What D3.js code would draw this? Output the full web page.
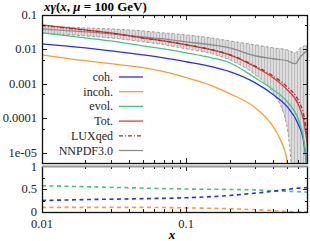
<!DOCTYPE html>
<html>
<head>
<meta charset="utf-8">
<script src="https://cdn.jsdelivr.net/npm/d3@7"></script>
<style>
  body { margin: 0; background: #fff; }
  text { font-family: "Liberation Serif", "DejaVu Serif", serif; }
</style>
</head>
<body>
<div id="chart"></div>
<script>
// x grid for the photon curves
const xs = [0.01, 0.02, 0.03, 0.05, 0.07, 0.1, 0.15, 0.2, 0.3, 0.4, 0.5, 0.6, 0.65, 0.7];
const coh  = [0.0145, 0.0111, 0.00912, 0.00698, 0.00571, 0.00438, 0.00314, 0.00225, 0.00108, 4.9e-4, 2.2e-4, 6.6e-5, 2.4e-5, 2e-6];
const evol = [0.0302, 0.0216, 0.0177, 0.0127, 0.0104, 0.00798, 0.00571, 0.0041, 0.00151, 6.8e-4, 3.06e-4, 9.2e-5, 2.8e-5, 2e-6];
const tot  = [0.0514, 0.0368, 0.0302, 0.0216, 0.0177, 0.0136, 0.00973, 0.00698, 0.00314, 0.00151, 6.8e-4, 2.5e-4, 9.2e-5, 1.25e-5];
const lux  = [0.050, 0.0362, 0.0298, 0.0214, 0.0177, 0.0137, 0.0099, 0.0071, 0.0033, 0.0017, 8.3e-4, 3.3e-4, 1.4e-4, 2.4e-5];

const xsIncoh = [0.01, 0.02, 0.03, 0.05, 0.07, 0.1, 0.15, 0.2, 0.3, 0.4, 0.45, 0.5, 0.52];
const incoh   = [0.00698, 0.00469, 0.00384, 0.00294, 0.00225, 0.00151, 8.9e-4, 5.2e-4, 2.05e-4, 5.8e-5, 2.4e-5, 6e-6, 1e-6];

// NNPDF3.0 central value and band
const xsNN    = [0.01, 0.02, 0.03, 0.05, 0.07, 0.1, 0.15, 0.2, 0.3, 0.4, 0.5, 0.57, 0.62, 0.7];
const nnMid   = [0.0394, 0.0323, 0.0283, 0.0231, 0.0202, 0.0166, 0.0136, 0.0111, 0.00654, 0.00535, 0.00469, 0.00384, 0.0061, 0.0097];
const nnUp    = [0.0481, 0.0421, 0.0394, 0.0345, 0.0302, 0.0264, 0.0216, 0.0177, 0.0136, 0.0111, 0.00973, 0.00798, 0.0111, 0.0136];
const nnLow   = [0.0302, 0.0247, 0.0216, 0.0166, 0.0136, 0.0104, 0.00746, 0.005, 0.00185, 5.5e-4, 6e-5, 1e-6, 1e-6, 1e-6];

// ratio panel (fraction of total)
const xsRatio    = [0.01, 0.02, 0.05, 0.1, 0.2, 0.3, 0.4, 0.5, 0.6, 0.7];
const ratioCoh   = [0.25, 0.27, 0.29, 0.31, 0.36, 0.41, 0.45, 0.49, 0.52, 0.53];
const ratioEvol  = [0.57, 0.55, 0.52, 0.50, 0.49, 0.48, 0.46, 0.45, 0.44, 0.43];
const ratioIncoh = [0.10, 0.10, 0.10, 0.09, 0.07, 0.05, 0.03, 0.01, 0.0, 0.0];

const yMajor = [0.1, 0.01, 0.001, 0.0001, 0.00001];
const yMajorLabels = ["0.1", "0.01", "0.001", "0.0001", "1e-05"];
const yMinor = [0.05, 0.005, 0.0005, 0.00005];
const xMajor = [0.01, 0.1];
const xMajorLabels = ["0.01", "0.1"];
const xMinor = [0.02, 0.03, 0.04, 0.05, 0.06, 0.07, 0.08, 0.09, 0.2, 0.3, 0.4, 0.5, 0.6];
const rMajor = [0, 0.5, 1];
const rMinor = [0.25, 0.75];

const series = [
  { label: "coh.",     xs: xs,      ys: coh,   color: "#2a2aff", dash: null },
  { label: "incoh.",   xs: xsIncoh, ys: incoh, color: "#ff9a2e", dash: null },
  { label: "evol.",    xs: xs,      ys: evol,  color: "#3cc97c", dash: null },
  { label: "Tot.",     xs: xs,      ys: tot,   color: "#ee3333", dash: null },
  { label: "LUXqed",   xs: xs,      ys: lux,   color: "#a52a2a", dash: "4,2,1,2" },
  { label: "NNPDF3.0", xs: xsNN,    ys: nnMid, color: "#8c8c8c", dash: null }
];

const W = 310, H = 241;
const L = 42, R = 308, T = 15, B = 163, T2 = 166, B2 = 212;

const svg = d3.select("#chart").append("svg")
  .attr("width", W).attr("height", H);

const x = d3.scaleLog().domain([0.01, 0.7]).range([L, R]);
const y = d3.scaleLog().domain([5e-6, 0.1]).range([B, T]);
const yr = d3.scaleLinear().domain([0, 1]).range([B2, T2]);

const defs = svg.append("defs");
defs.append("clipPath").attr("id", "clipTop")
  .append("rect").attr("x", L).attr("y", T).attr("width", R - L).attr("height", B - T);
defs.append("clipPath").attr("id", "clipBot")
  .append("rect").attr("x", L).attr("y", T2).attr("width", R - L).attr("height", B2 - T2);
const pat = defs.append("pattern").attr("id", "hatch")
  .attr("patternUnits", "userSpaceOnUse").attr("width", 3).attr("height", 10);
pat.append("rect").attr("width", 3).attr("height", 10).attr("fill", "#dcdcdc");
pat.append("line").attr("x1", 0.5).attr("x2", 0.5).attr("y1", 0).attr("y2", 10)
  .attr("stroke", "#bdbdbd").attr("stroke-width", 1);

const gTop = svg.append("g").attr("clip-path", "url(#clipTop)");

// NNPDF band
const nn = xsNN.map((d, i) => ({ x: d, lo: nnLow[i], hi: nnUp[i] }));
gTop.append("path")
  .datum(nn)
  .attr("fill", "url(#hatch)")
  .attr("d", d3.area().x(d => x(d.x)).y0(d => y(d.lo)).y1(d => y(d.hi)).curve(d3.curveMonotoneX));

[nnUp, nnLow].forEach(arr => {
  gTop.append("path")
    .datum(xsNN.map((d, i) => [d, arr[i]]))
    .attr("fill", "none")
    .attr("stroke", "#a0a0a0")
    .attr("stroke-width", 1)
    .attr("stroke-dasharray", "3,2")
    .attr("d", d3.line().x(d => x(d[0])).y(d => y(d[1])).curve(d3.curveMonotoneX));
});

const curveOrder = [5, 1, 0, 2, 3, 4];
curveOrder.forEach(k => {
  const s = series[k];
  gTop.append("path")
    .datum(s.xs.map((d, i) => [d, s.ys[i]]))
    .attr("fill", "none")
    .attr("stroke", s.color)
    .attr("stroke-width", 1.3)
    .attr("stroke-dasharray", s.dash)
    .attr("d", d3.line().x(d => x(d[0])).y(d => y(d[1])).curve(d3.curveMonotoneX));
});

// legend
const legend = svg.append("g");
series.forEach((s, i) => {
  const ly = 77 + i * 14.7;
  legend.append("text")
    .attr("x", 113).attr("y", ly + 4)
    .attr("text-anchor", "end")
    .style("font-size", "12px")
    .attr("fill", "#222")
    .text(s.label);
  legend.append("line")
    .attr("x1", 119).attr("x2", 143)
    .attr("y1", ly).attr("y2", ly)
    .attr("stroke", s.color)
    .attr("stroke-width", 1.3)
    .attr("stroke-dasharray", s.dash);
});

// ratio panel
const gBot = svg.append("g").attr("clip-path", "url(#clipBot)");
[[ratioEvol, "#3cc97c"], [ratioCoh, "#2a2aff"], [ratioIncoh, "#ff9a2e"]].forEach(([arr, c]) => {
  gBot.append("path")
    .datum(xsRatio.map((d, i) => [d, arr[i]]))
    .attr("fill", "none")
    .attr("stroke", c)
    .attr("stroke-width", 1.6)
    .attr("stroke-dasharray", "4,3.5")
    .attr("d", d3.line().x(d => x(d[0])).y(d => yr(d[1])).curve(d3.curveMonotoneX));
});

// frames and ticks
function ticksX(yb, yt) {
  const g = svg.append("g").attr("stroke", "#222").attr("stroke-width", 1);
  xMajor.concat(xMinor).forEach(v => {
    const len = xMajor.includes(v) ? 5 : 3;
    const px = Math.round(x(v)) + 0.5;
    g.append("line").attr("x1", px).attr("x2", px).attr("y1", yb).attr("y2", yb - len);
    g.append("line").attr("x1", px).attr("x2", px).attr("y1", yt).attr("y2", yt + len);
  });
}
function ticksY(sc, major, minor) {
  const g = svg.append("g").attr("stroke", "#222").attr("stroke-width", 1);
  major.concat(minor).forEach(v => {
    const len = major.includes(v) ? 5 : 3;
    const py = Math.round(sc(v)) + 0.5;
    g.append("line").attr("x1", L).attr("x2", L + len).attr("y1", py).attr("y2", py);
    g.append("line").attr("x1", R).attr("x2", R - len).attr("y1", py).attr("y2", py);
  });
}
ticksX(B, T);
ticksY(y, yMajor, yMinor);
ticksX(B2, T2);
ticksY(yr, rMajor, rMinor);

svg.append("rect").attr("x", L + 0.5).attr("y", T + 0.5)
  .attr("width", R - L - 1).attr("height", B - T)
  .attr("fill", "none").attr("stroke", "#111").attr("stroke-width", 1.3);
svg.append("rect").attr("x", L + 0.5).attr("y", T2 + 0.5)
  .attr("width", R - L - 1).attr("height", B2 - T2)
  .attr("fill", "none").attr("stroke", "#111").attr("stroke-width", 1.3);
svg.append("line").attr("x1", L).attr("x2", R).attr("y1", T2 + 0.5).attr("y2", T2 + 0.5)
  .attr("stroke", "#999").attr("stroke-width", 1.3);

// tick labels
yMajor.forEach((v, i) => {
  svg.append("text").attr("x", 37).attr("y", y(v) + 4)
    .attr("text-anchor", "end").style("font-size", "12.5px").attr("fill", "#222")
    .text(yMajorLabels[i]);
});
rMajor.forEach(v => {
  svg.append("text").attr("x", 37).attr("y", yr(v) + (v === 1 ? 5 : 3.5))
    .attr("text-anchor", "end").style("font-size", "12.5px").attr("fill", "#222")
    .text(d3.format("")(v));
});
xMajor.forEach((v, i) => {
  svg.append("text").attr("x", x(v)).attr("y", 228)
    .attr("text-anchor", "middle").style("font-size", "12.5px").attr("fill", "#222")
    .text(xMajorLabels[i]);
});

// axis title and plot title
svg.append("text").attr("x", 172).attr("y", 239)
  .attr("text-anchor", "middle").style("font-size", "13px")
  .style("font-weight", "bold").style("font-style", "italic")
  .text("x");

const title = svg.append("text").attr("x", 44).attr("y", 11)
  .style("font-size", "13px").style("font-weight", "bold");
title.append("tspan").style("font-style", "italic").text("xγ");
title.append("tspan").text("(");
title.append("tspan").style("font-style", "italic").text("x");
title.append("tspan").text(", ");
title.append("tspan").style("font-style", "italic").text("μ");
title.append("tspan").text(" = 100 GeV)");
</script>
</body>
</html>
